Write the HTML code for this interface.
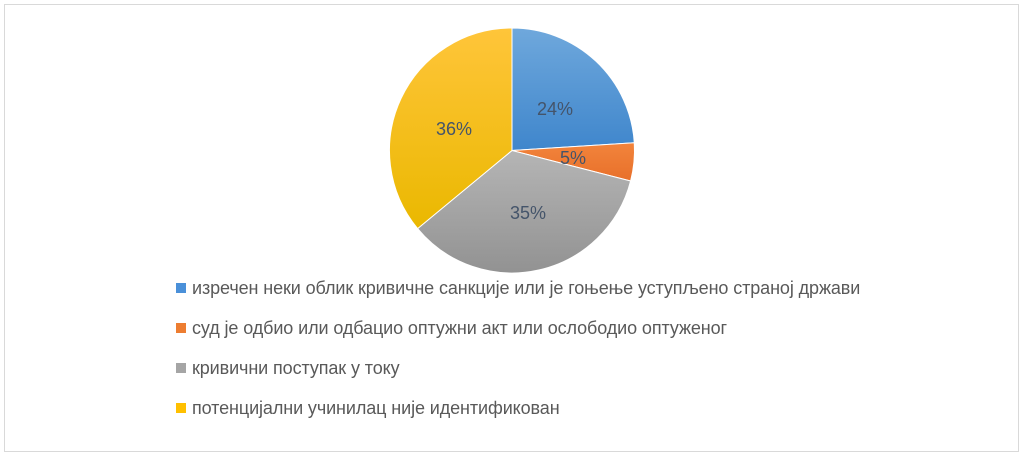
<!DOCTYPE html>
<html><head><meta charset="utf-8"><style>
body{margin:0;background:#fff;}
.wrap{position:relative;width:1025px;height:458px;overflow:hidden;}
.frame{position:absolute;left:4px;top:4px;width:1015px;height:448px;border:1px solid #d9d9d9;box-sizing:border-box;}
.leg{position:absolute;left:176px;font:18px "Liberation Sans","DejaVu Sans",sans-serif;color:#595959;white-space:nowrap;letter-spacing:-0.1px;}
.leg i{display:inline-block;width:10px;height:10px;margin-right:6px;vertical-align:1px;}
</style></head><body><div class="wrap">
<div class="frame"></div>
<svg width="1025" height="458" style="position:absolute;left:0;top:0">
<defs>
<linearGradient id="gb" x1="0" y1="0" x2="0" y2="1"><stop offset="0" stop-color="#6fa8dc"/><stop offset="1" stop-color="#3f86cc"/></linearGradient>
<linearGradient id="go" x1="0" y1="0" x2="0" y2="1"><stop offset="0" stop-color="#f2843c"/><stop offset="1" stop-color="#e8702a"/></linearGradient>
<linearGradient id="gg" x1="0" y1="0" x2="0" y2="1"><stop offset="0" stop-color="#b5b5b5"/><stop offset="1" stop-color="#929292"/></linearGradient>
<linearGradient id="gy" x1="0" y1="0" x2="0" y2="1"><stop offset="0" stop-color="#ffc53a"/><stop offset="1" stop-color="#eab800"/></linearGradient>
</defs>
<g stroke="#fff" stroke-width="1">
<path d="M512,150.5 L512,28 A122.5,122.5 0 0 1 634.3,142.8 Z" fill="url(#gb)"/>
<path d="M512,150.5 L634.3,142.8 A122.5,122.5 0 0 1 630.6,181 Z" fill="url(#go)"/>
<path d="M512,150.5 L630.6,181 A122.5,122.5 0 0 1 417.6,228.6 Z" fill="url(#gg)"/>
<path d="M512,150.5 L417.6,228.6 A122.5,122.5 0 0 1 512,28 Z" fill="url(#gy)"/>
</g>
<g font-family="Liberation Sans,DejaVu Sans,sans-serif" font-size="18" fill="#44546a" text-anchor="middle">
<text x="555" y="115">24%</text>
<text x="573" y="164">5%</text>
<text x="528" y="219">35%</text>
<text x="454" y="135">36%</text>
</g>
</svg>
<div class="leg" style="top:278px"><i style="background:#4a90d9"></i>изречен неки облик кривичне санкције или је гоњење уступљено страној држави</div>
<div class="leg" style="top:318px"><i style="background:#ed7d31"></i>суд је одбио или одбацио оптужни акт или ослободио оптуженог</div>
<div class="leg" style="top:358px"><i style="background:#a5a5a5"></i>кривични поступак у току</div>
<div class="leg" style="top:398px"><i style="background:#ffc000"></i>потенцијални учинилац није идентификован</div>
</div></body></html>
